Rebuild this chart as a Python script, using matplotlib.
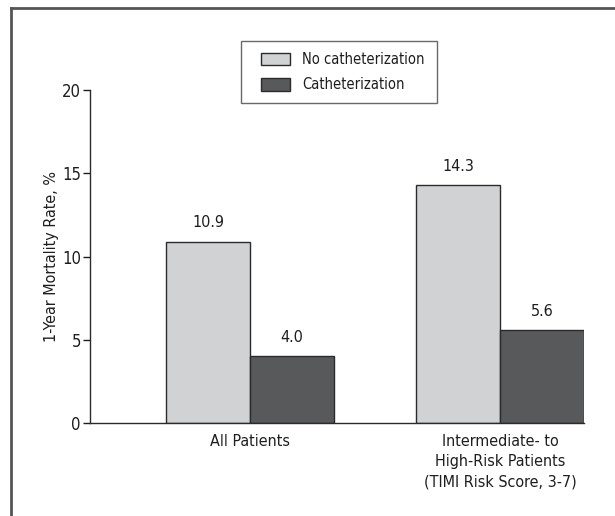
import matplotlib
matplotlib.use("Agg")
import matplotlib.pyplot as plt
import matplotlib.patches as mpatches
from matplotlib.legend_handler import HandlerPatch
from matplotlib.lines import Line2D
import numpy as np

categories = ["All Patients", "Intermediate- to\nHigh-Risk Patients\n(TIMI Risk Score, 3-7)"]
series_names = ["No catheterization", "Catheterization"]
no_cath = [10.9, 14.3]
cath = [4.0, 5.6]
yticks = [0, 5, 10, 15, 20]

plt.rcParams['font.family'] = ['DejaVu Sans']
plt.rcParams['font.stretch'] = 'condensed'

fig = plt.figure(figsize=(6.15, 5.16), dpi=100)
ax = fig.add_axes([90/615, 1-423/516, (584-90)/615, (423-90)/516])

light = "#d1d2d4"
dark = "#58595b"
edge = "#2b2b2b"
txt = "#1e1e1e"
w = 0.336
x = np.arange(len(categories))
b1 = ax.bar(x - w/2, no_cath, w, color=light, edgecolor=edge, linewidth=1.0)
b2 = ax.bar(x + w/2, cath, w, color=dark, edgecolor=edge, linewidth=1.0)

for bars, vals in [(b1, no_cath), (b2, cath)]:
    for r, v in zip(bars, vals):
        ax.annotate(f"{v:.1f}", (r.get_x() + r.get_width()/2, v), xytext=(0, 8),
                    textcoords="offset points", ha="center", va="bottom", fontsize=11.5, color=txt)

ax.set_xlim(-0.64, 1.336)
ax.set_ylim(0, 20)
ax.set_yticks(yticks)
ax.set_xticks(x)
ax.set_xticklabels(categories, fontsize=11.5, color=txt, linespacing=1.42)
ax.tick_params(axis='x', length=0, pad=8)
ax.tick_params(axis='y', length=5, width=1, pad=1.5, labelsize=12, colors=txt)
ax.set_ylabel("1-Year Mortality Rate, %", fontsize=11.5, color=txt, labelpad=2)
for s in ["top", "right"]:
    ax.spines[s].set_visible(False)
for s in ["left", "bottom"]:
    ax.spines[s].set_color(edge)
    ax.spines[s].set_linewidth(1.0)

OFF = 9 * 72 / 100  # points

def make_rect(legend, orig_handle, xdescent, ydescent, width, height, fontsize):
    return mpatches.Rectangle((-xdescent + OFF, -ydescent), width - OFF, height)

FS = 10.5
h1 = mpatches.Patch(facecolor=light, edgecolor=edge, linewidth=1.0)
h2 = mpatches.Patch(facecolor=dark, edgecolor=edge, linewidth=1.0)
leg = fig.legend(handles=[h1, h2], labels=series_names, loc="upper left",
                 bbox_to_anchor=(241/615, 1-101/516, 196/615, 60/516), mode="expand",
                 fontsize=FS, frameon=True, fancybox=False, edgecolor="#444",
                 handlelength=27.4/FS, handleheight=10.1/FS, borderpad=7.9/FS,
                 labelspacing=7.4/FS, handletextpad=8.6/FS, borderaxespad=0,
                 handler_map={mpatches.Patch: HandlerPatch(patch_func=make_rect)})
leg.get_frame().set_linewidth(1.0)
for t in leg.get_texts():
    t.set_color(txt)

# outer frame (top and left lines)
fig.add_artist(Line2D([11/615, 11/615], [0, 1-8/516], transform=fig.transFigure, color="#555", lw=2))
fig.add_artist(Line2D([11/615, 1], [1-8/516, 1-8/516], transform=fig.transFigure, color="#555", lw=2))

fig.savefig("out.png", dpi=100)
